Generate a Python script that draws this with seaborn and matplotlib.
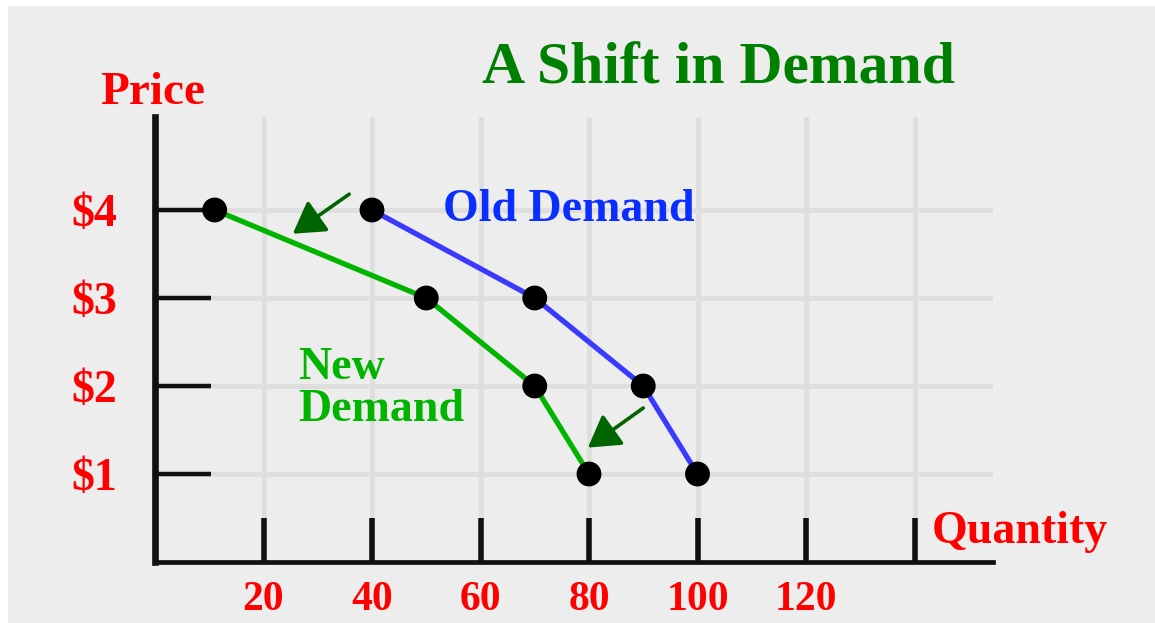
"""Recreate the 'A Shift in Demand' textbook chart."""
import matplotlib
matplotlib.use("Agg")
import matplotlib.pyplot as plt
import pandas as pd
import seaborn as sns
from matplotlib.patches import Rectangle

W, H = 1155, 623

OLD_QTY = [40, 70, 90, 100]
OLD_PRICE = [4, 3, 2, 1]
NEW_QTY = [11, 50, 70, 80]
NEW_PRICE = [4, 3, 2, 1]

X_TICKS = [20, 40, 60, 80, 100, 120, 140]
X_LABELS = ["20", "40", "60", "80", "100", "120", ""]
Y_TICKS = [1, 2, 3, 4]
Y_LABELS = ["\\$1", "\\$2", "\\$3", "\\$4"]

# shift arrows, tail -> head, in data units
ARROW_TAILS = [(35.8, 4.18), (90.0, 1.75)]
ARROW_HEADS = [(25.4, 3.73), (79.8, 1.30)]

RED = "#ff0000"
BLUE_LINE = "#3a3aff"
BLUE_TEXT = "#0a2eff"
GREEN_LINE = "#00b400"
GREEN_TITLE = "#008000"
ARROW_GREEN = "#006400"
BG = "#ededed"
GRID = "#dedede"
SERIF = ["Liberation Serif", "DejaVu Serif"]


def fx(x):
    return x / W


def fy(y):
    return 1 - y / H


def main():
    demand = pd.DataFrame({
        "quantity": OLD_QTY + NEW_QTY,
        "price": OLD_PRICE + NEW_PRICE,
        "curve": ["Old"] * len(OLD_QTY) + ["New"] * len(NEW_QTY),
    })

    fig = plt.figure(figsize=(W / 100, H / 100), dpi=100)
    fig.patch.set_facecolor("white")
    fig.patches.append(Rectangle((fx(8), 0), 1 - fx(8), fy(6), transform=fig.transFigure,
                                 facecolor=BG, edgecolor="none", zorder=-10))

    ax = fig.add_axes([fx(155), fy(562), fx(993) - fx(155), fy(117) - fy(562)])
    ax.set_facecolor("none")
    ax.set_xlim(0, (993 - 155) / 5.425)
    ax.set_ylim(0, (562 - 117) / 88)

    sns.lineplot(data=demand, x="quantity", y="price", hue="curve",
                 palette={"Old": BLUE_LINE, "New": GREEN_LINE}, sort=False,
                 estimator=None, lw=3.8, legend=False, ax=ax, zorder=3)
    sns.scatterplot(data=demand, x="quantity", y="price", color="black", s=320,
                    edgecolor="none", legend=False, ax=ax, zorder=4)

    for tail, head in zip(ARROW_TAILS, ARROW_HEADS):
        ax.annotate("", xy=head, xytext=tail,
                    arrowprops=dict(arrowstyle="-|>,head_length=1.0,head_width=0.6",
                                    color=ARROW_GREEN, lw=2.6, mutation_scale=19,
                                    shrinkA=0, shrinkB=0), zorder=5)

    ax.set_xticks(X_TICKS)
    ax.set_xticklabels(X_LABELS)
    ax.set_yticks(Y_TICKS)
    ax.set_yticklabels(Y_LABELS)
    ax.set_xlabel("")
    ax.set_ylabel("")

    ax.grid(True, color=GRID, lw=3.5, zorder=0)
    ax.set_axisbelow(True)
    for side in ("top", "right"):
        ax.spines[side].set_visible(False)
    ax.spines["left"].set_linewidth(4.8)
    ax.spines["bottom"].set_linewidth(3.4)
    ax.spines["left"].set_color("#111111")
    ax.spines["bottom"].set_color("#111111")
    ax.tick_params(axis="y", direction="in", length=40, width=3.2, color="#111111",
                   pad=27, labelcolor=RED, labelsize=33)
    ax.tick_params(axis="x", direction="in", length=32, width=4, color="#111111",
                   pad=14, labelcolor=RED, labelsize=30)
    for lab in ax.get_xticklabels() + ax.get_yticklabels():
        lab.set_fontfamily(SERIF)
        lab.set_fontweight("bold")

    fig.text(fx(718), fy(83), "A Shift in Demand", ha="center", va="baseline",
             color=GREEN_TITLE, fontsize=43, fontweight="bold", family=SERIF)
    fig.text(fx(100), fy(104), "Price", ha="left", va="baseline",
             color=RED, fontsize=34, fontweight="bold", family=SERIF)
    fig.text(fx(932), fy(543), "Quantity", ha="left", va="baseline",
             color=RED, fontsize=33, fontweight="bold", family=SERIF)
    fig.text(fx(443), fy(221), "Old Demand", ha="left", va="baseline",
             color=BLUE_TEXT, fontsize=33, fontweight="bold", family=SERIF)
    fig.text(fx(298), fy(379), "New", ha="left", va="baseline",
             color=GREEN_LINE, fontsize=33, fontweight="bold", family=SERIF)
    fig.text(fx(298), fy(421), "Demand", ha="left", va="baseline",
             color=GREEN_LINE, fontsize=33, fontweight="bold", family=SERIF)

    fig.savefig("out.png", dpi=100)
    plt.close(fig)


if __name__ == "__main__":
    main()
